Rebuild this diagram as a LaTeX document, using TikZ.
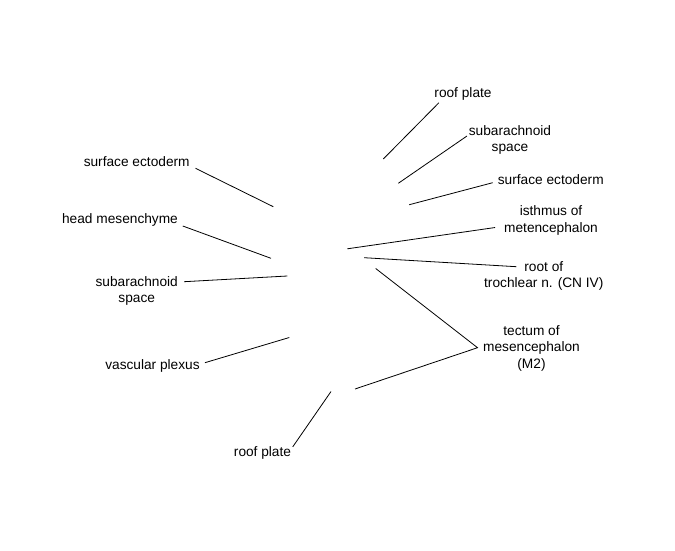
\documentclass[tikz,border=0pt]{standalone}
\usepackage{fontspec}
\setmainfont{Liberation Sans}
\usepackage{tikz}

\begin{document}
\begin{tikzpicture}[x=1pt,y=-1pt,
   lbl/.style={align=center,inner sep=0pt,font=\fontsize{13.7}{16.5}\selectfont},
   ptr/.style={line width=0.8pt}]
   \useasboundingbox (0,0) rectangle (675,550);

   \node[lbl] (seL) at (136.7,161.7) {surface ectoderm};
   \node[lbl] (hm)  at (120,220)     {head mesenchyme};
   \node[lbl] (saL) at (136.7,291)   {subarachnoid\\space};
   \node[lbl] (vp)  at (152.5,366)   {vascular plexus};
   \node[lbl] (rpB) at (262.5,453.3) {roof plate};
   \node[lbl] (rpT) at (463,94)      {roof plate};
   \node[lbl] (saR) at (510,140)     {subarachnoid\\space};
   \node[lbl] (seR) at (550.8,179.5) {surface ectoderm};
   \node[lbl] (iso) at (551,220.5)   {isthmus of\\metencephalon};
   \node[lbl] (rot) at (543.8,276)   {root of\\trochlear n. (CN IV)};
   \node[lbl] (tec) at (531.5,348.3) {tectum of\\mesencephalon\\(M2)};

   \coordinate (seL-tip) at (273.3,206.7);
   \coordinate (hm-tip)  at (271,258.3);
   \coordinate (saL-tip) at (287.3,276);
   \coordinate (vp-tip)  at (289.3,337.5);
   \coordinate (rpB-tip) at (331,391.5);
   \coordinate (rpT-tip) at (383.3,159);
   \coordinate (saR-tip) at (398.3,183.3);
   \coordinate (seR-tip) at (409.3,204.7);
   \coordinate (iso-tip) at (347.3,248.8);
   \coordinate (rot-tip) at (364.2,257.7);
   \coordinate (tec-up)  at (375.7,268.5);
   \coordinate (tec-lo)  at (355,389);
   \coordinate (tec-j)   at ([shift={(-5.4,-0.6)}]tec.west);

   \draw[ptr] ([shift={(5.7,6.6)}]seL.east) -- (seL-tip);
   \draw[ptr] ([shift={(4.7,6)}]hm.east) -- (hm-tip);
   \draw[ptr] ([shift={(6,-9.3)}]saL.east) -- (saL-tip);
   \draw[ptr] ([shift={(5,-3.3)}]vp.east) -- (vp-tip);
   \draw[ptr] ([shift={(1.5,-6.5)}]rpB.east) -- (rpB-tip);
   \draw[ptr] ([shift={(4.7,8.7)}]rpT.west) -- (rpT-tip);
   \draw[ptr] ([shift={(-1.7,-4)}]saR.west) -- (saR-tip);
   \draw[ptr] ([shift={(-5,3.2)}]seR.west) -- (seR-tip);
   \draw[ptr] ([shift={(-8.8,7)}]iso.west) -- (iso-tip);
   \draw[ptr] ([shift={(32.5,-9.3)}]rot.west) -- (rot-tip);
   \draw[ptr] (tec-up) -- (tec-j) -- (tec-lo);
\end{tikzpicture}
\end{document}
